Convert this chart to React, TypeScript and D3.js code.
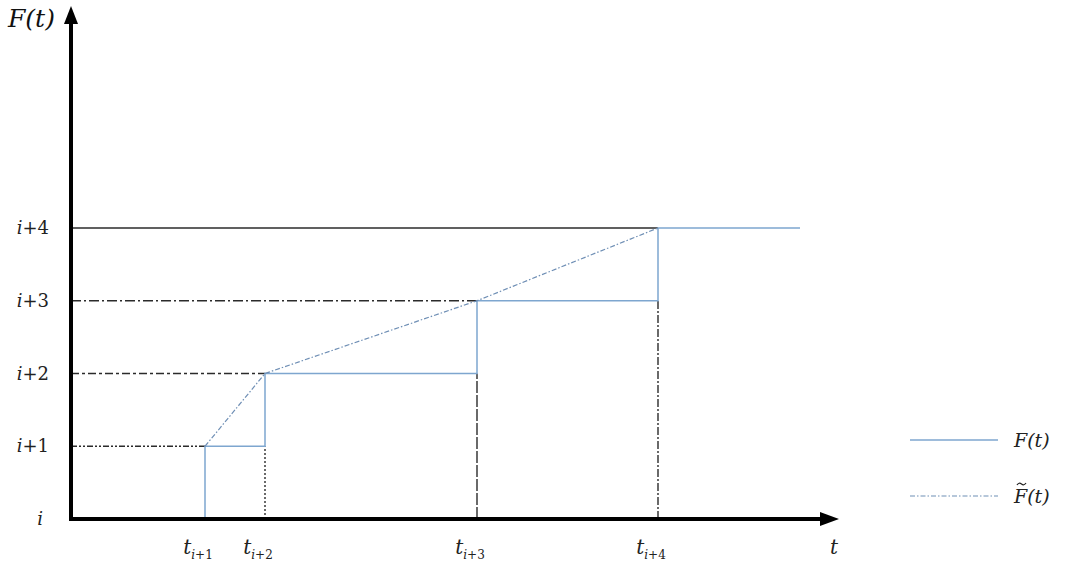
import React from 'react'
import * as d3 from 'd3'

// step times t_{i+1}..t_{i+4} and the level reached at each
const tLabels = ['i+1', 'i+2', 'i+3', 'i+4']
const tValues = [1.34, 1.94, 4.06, 5.87]
const stepLevels = [1, 2, 3, 4]
const levelLabels = ['i', 'i+1', 'i+2', 'i+3', 'i+4']
const tEnd = 7.29

const W = 1068, H = 565
const BLUE = '#7ea6cf'
const INK = '#2b2b2b'

const App = () => {
  var x = d3.scaleLinear().domain([0, 7.67]).range([71, 838])
  var y = d3.scaleLinear().domain([0, 4]).range([519, 228])

  // F(t): staircase
  var stepPts: [number, number][] = [[tValues[0], 0]]
  tValues.forEach((t, i) => {
    stepPts.push([t, stepLevels[i]])
    stepPts.push([i < tValues.length - 1 ? tValues[i + 1] : tEnd, stepLevels[i]])
  })
  var line = d3.line<[number, number]>().x(d => x(d[0])).y(d => y(d[1]))
  // F~(t): linear interpolation between step corners
  var interpPts: [number, number][] = tValues.map((t, i) => [t, stepLevels[i]])

  // guide line dash styles (horizontal from axis, vertical down to axis)
  var hDash = ['6 2 2 2 2 2', '8 3 3 3', '10 3 2 3', 'none']
  var vDash = ['', '2 2', '12 2', '8 2 2 2']

  var serif = '"DejaVu Serif", "Liberation Serif", serif'

  return (
    <svg width={W} height={H} style={{ position: 'absolute', left: 0, top: 0, background: '#fff' }}
      fontFamily={serif}>
      {/* horizontal guides */}
      {tValues.map((t, i) => (
        <line key={'h' + i} x1={x(0)} x2={x(t)} y1={y(stepLevels[i])} y2={y(stepLevels[i])}
          stroke={INK} strokeWidth={1.6} strokeDasharray={hDash[i]} />
      ))}
      {/* vertical guides */}
      {tValues.map((t, i) => i === 0 ? null : (
        <line key={'v' + i} x1={x(t)} x2={x(t)} y1={y(0)} y2={y(stepLevels[i - 1])}
          stroke={INK} strokeWidth={1.4} strokeDasharray={vDash[i]} />
      ))}
      <path d={line(stepPts) || ''} fill="none" stroke={BLUE} strokeWidth={1.5} />
      <path d={line(interpPts) || ''} fill="none" stroke="#6f8fb5" strokeWidth={1.2} strokeDasharray="5 2 1.5 2" />

      {/* axes */}
      <line x1={x(0)} x2={x(0)} y1={y(0) + 2} y2={20} stroke="#000" strokeWidth={4} />
      <path d={`M${x(0)},6 L${x(0) - 7},24 L${x(0) + 7},24 Z`} fill="#000" />
      <line x1={x(0) - 2} x2={822} y1={y(0)} y2={y(0)} stroke="#000" strokeWidth={4} />
      <path d={`M839,${y(0)} L820,${y(0) - 7} L820,${y(0) + 7} Z`} fill="#000" />

      {/* y labels */}
      {levelLabels.map((l, i) => (
        <text key={l} x={i === 0 ? 43 : 49} y={y(i) + 6} textAnchor="end" fontSize={18} fill="#222">
          <tspan fontStyle="italic">i</tspan>{l.slice(1)}
        </text>
      ))}
      {/* x labels */}
      {tLabels.map((l, i) => (
        <text key={l} x={x(tValues[i]) - 7} y={554} textAnchor="middle" fontSize={20} fill="#222">
          <tspan fontStyle="italic">t</tspan>
          <tspan dy={5} fontSize={12}><tspan fontStyle="italic">i</tspan>{l.slice(1)}</tspan>
        </text>
      ))}
      <text x={830} y={554} fontSize={20} fontStyle="italic" fill="#222">t</text>
      <text x={8} y={27} fontSize={25} fontStyle="italic" fill="#111">F(t)</text>

      {/* legend */}
      <line x1={910} x2={998} y1={440} y2={440} stroke={BLUE} strokeWidth={1.5} />
      <text x={1014} y={447} fontSize={19} fontStyle="italic" fill="#222">F(t)</text>
      <line x1={910} x2={998} y1={496} y2={496} stroke="#6f8fb5" strokeWidth={1.2} strokeDasharray="5 2 1.5 2" />
      <text x={1014} y={503} fontSize={19} fontStyle="italic" fill="#222">F(t)</text>
      <path d="M1017,485 q2,-3 4.5,-1 t4.5,-1" fill="none" stroke="#222" strokeWidth={1.2} />
    </svg>
  )
}

export default App
